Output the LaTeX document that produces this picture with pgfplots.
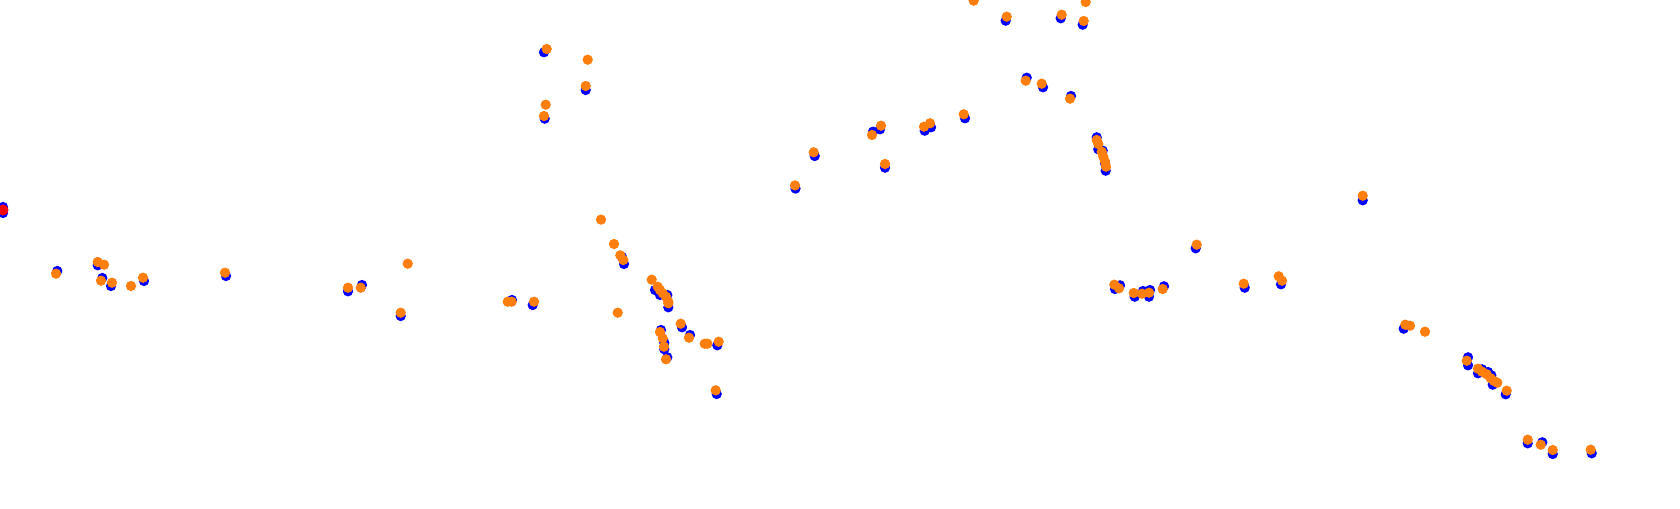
\documentclass[border=0pt]{standalone}
\usepackage{pgfplots}
\pgfplotsset{compat=1.18}
\begin{document}
\begin{tikzpicture}
\begin{axis}[
  width=16.8cm, height=5.08cm, scale only axis,
  xmin=0, xmax=1680, ymin=0, ymax=508, y dir=reverse,
  axis lines=none, clip marker paths=true,
]
% blue series
\addplot[only marks, mark=*, mark size=1.25pt, color=blue, mark options={draw=blue, fill=blue}] coordinates {
(3,207) (3,213)
(57.3,271) (97.7,265.3) (102.3,278) (111,286) (144,281) (226,276)
(348,291.3) (362,285) (400.7,316) (512,300) (532.7,305)
(624,264) (622,257) (655,290) (660,295) (667.3,295) (668.3,307.3)
(661,330) (664.3,349.3) (664.3,342.7) (667.3,357.3) (682,327.3) (690,335) (717.3,345.3) (716.7,394)
(544,52.3) (585.7,90) (544.7,118.7)
(795.5,188.6) (814.7,156) (873,131.7) (880,129.3) (885,167.7) (924.7,130.7) (931,127.3) (965,118.3)
(1005.7,20.7) (1060.7,18.3) (1082.7,24.7) (1026.7,77.7) (1043,87.3) (1071,96)
(1096.7,137.3) (1098.3,149.3) (1102.7,150.7) (1105,163.3) (1105.7,170.7)
(1195.7,248.3) (1120,285.3) (1115,289) (1134.7,296.7) (1143,291) (1150,290) (1149,296.7) (1164,286.3)
(1244.7,287.7) (1281,284.3)
(1362.7,200.3) (1403.7,328.7)
(1468,357.3) (1468,365.3) (1478,373.3) (1482,369.3) (1488,372) (1491.3,375.3) (1492.7,384.7)
(1505.7,394.3) (1527.7,443.3) (1542.3,442.3) (1552.7,454) (1591.7,453.3)
};
% orange series
\addplot[only marks, mark=*, mark size=1.25pt, color=orange, mark options={draw={rgb,255:red,255;green,127;blue,14}, fill={rgb,255:red,255;green,127;blue,14}}] coordinates {
(56,273.7) (97.7,262) (104,264.7) (101,280.7) (112,282.7) (131,286) (143,277.7) (225,272.7)
(407.7,263.7) (348,287.7) (360.7,287.7) (400.7,312.7)
(507.7,301.7) (511.7,301.7) (534,301.7)
(601,219.6) (614,244) (620.3,255.3) (623.3,260)
(651.7,279.7) (657.7,286.7) (660,290) (662.7,293.3) (666,296.7) (668.3,301.7) (668.3,303.3)
(617.7,312.7) (660,332) (662.7,338.3) (664,346.7) (666,359.3)
(680.7,323.7) (689,337.7) (704.7,343.7) (707.3,343.7) (718.7,341.7) (715.7,390.3)
(546.7,49) (587.7,59.7) (585.7,86) (545.7,104.7) (544,116)
(795,185.4) (813.7,152.3) (872,135) (881,125.7) (885,164) (924,126.7) (930,123.3) (963.7,114.3)
(973.7,0.7) (1006.7,16.7) (1061.7,14.7) (1085.7,2) (1083.7,21)
(1025.7,80.7) (1041.7,83.7) (1070,98.7)
(1096.7,140) (1098.3,144) (1101.7,151.7) (1103.3,156.7) (1105,161.7) (1106,166.7)
(1196.7,244.7) (1114.3,284.7) (1119,288.3) (1133.7,293) (1142,293.7) (1149,292.7) (1162.7,289)
(1243.7,283.7) (1278.7,276.3) (1282,280.7)
(1362.7,195.7) (1405.3,324.7) (1410,325.7) (1425,331.7)
(1466.7,360.7) (1478,368.7) (1482,371.7) (1486.7,374.3) (1490.7,378.3) (1494,381) (1497.3,382.7)
(1506.7,390.7) (1527.7,439.7) (1540.7,444.7) (1552.7,450) (1590.7,449.7)
};
% red point
\addplot[only marks, mark=*, mark size=1.35pt, color=red, mark options={draw=red, fill=red}] coordinates {
(3,210)
};
\coordinate (sw) at (rel axis cs:0,1);
\coordinate (ne) at (rel axis cs:1,0);
\end{axis}
\pgfresetboundingbox
\useasboundingbox (sw) rectangle (ne);
\end{tikzpicture}
\end{document}
